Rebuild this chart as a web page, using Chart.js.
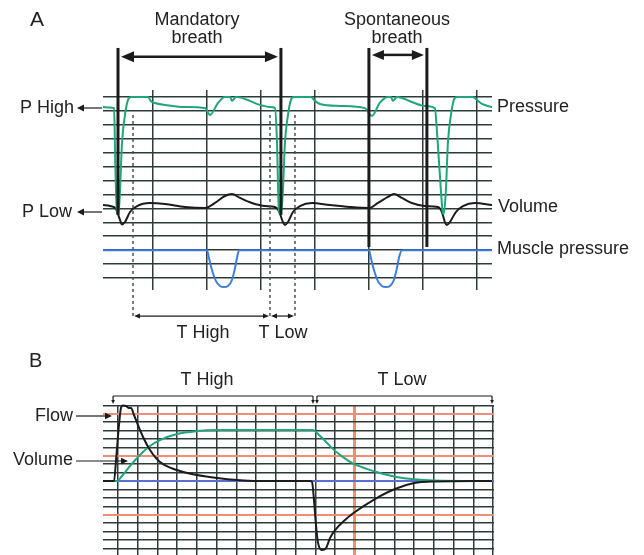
<!DOCTYPE html>
<html>
<head>
<meta charset="utf-8">
<script src="https://cdn.jsdelivr.net/npm/chart.js@4.4.1/dist/chart.umd.min.js"></script>
<style>
  html, body { margin: 0; padding: 0; background: #fff; }
  #wrap { position: relative; width: 644px; height: 555px; overflow: hidden; }
  canvas { position: absolute; left: 0; top: 0; }
</style>
</head>
<body>
<div id="wrap">
  <canvas id="chartA" width="644" height="555"></canvas>
  <canvas id="chartB" width="644" height="555"></canvas>
</div>
<script>
// Panel A: time in grid divisions, value in grid rows (0 = bottom row)
const aGridT = [1, 2, 3, 4, 5, 6, 7];
const aGridV = [0, 1, 2, 3, 4, 5, 6, 7, 8, 9, 10, 11, 12, 13];

const aPressureT = [0.074, 0.2, 0.28, 0.3, 0.333, 0.361, 0.389, 0.426, 0.481, 0.537, 0.593, 0.907, 0.963, 1.037, 1.22, 1.59, 1.963,
  2.056, 2.204, 2.333, 2.426, 2.463, 2.537, 2.611, 2.796, 2.98, 3.167, 3.26, 3.296, 3.333, 3.37, 3.407, 3.444, 3.5, 3.556, 3.611,
  3.926, 4.0, 4.093, 4.463, 4.926, 5.056, 5.2, 5.352, 5.407, 5.444, 5.519, 5.611, 5.796, 6.037, 6.222, 6.259, 6.333, 6.37, 6.389,
  6.426, 6.463, 6.519, 6.574, 6.63, 6.926, 7.0, 7.093, 7.28];
const aPressureV = [12.28, 12.25, 12.2, 8.5, 4.67, 4.6, 6.32, 9.7, 11.7, 12.79, 13.0, 13.0, 12.7, 12.57, 12.43, 12.28, 12.2,
  11.71, 12.57, 13.0, 13.0, 12.72, 13.0, 12.97, 12.72, 12.43, 12.28, 12.2, 9.9, 4.74, 4.6, 6.32, 9.7, 11.7, 12.79, 13.0,
  13.0, 12.72, 12.5, 12.36, 12.2, 11.64, 12.57, 13.0, 13.0, 12.72, 13.0, 12.93, 12.64, 12.36, 12.2, 10.6, 6.32, 4.67, 4.6,
  6.32, 9.7, 11.7, 12.79, 13.0, 13.0, 12.79, 12.5, 12.28];

const aVolumeT = [0.074, 0.204, 0.315, 0.389, 0.426, 0.481, 0.574, 0.704, 0.944, 1.222, 1.593, 1.963, 2.148, 2.333, 2.463, 2.611,
  2.833, 3.074, 3.259, 3.333, 3.407, 3.444, 3.5, 3.593, 3.722, 3.944, 4.278, 4.648, 5.0, 5.167, 5.352, 5.463, 5.611, 5.796,
  6.037, 6.278, 6.352, 6.407, 6.444, 6.5, 6.611, 6.741, 6.963, 7.28];
const aVolumeV = [5.24, 5.17, 4.96, 4.17, 3.85, 4.02, 4.74, 5.17, 5.39, 5.32, 5.1, 5.03, 5.39, 5.89, 6.03, 5.75,
  5.39, 5.17, 5.1, 4.81, 4.02, 3.81, 4.02, 4.74, 5.17, 5.39, 5.24, 5.1, 5.03, 5.39, 5.82, 6.03, 5.75, 5.39,
  5.17, 5.1, 4.74, 4.02, 3.81, 4.02, 4.74, 5.17, 5.39, 5.24];

const aMuscleT = [0.074, 2.0, 2.037, 2.093, 2.167, 2.241, 2.315, 2.389, 2.463, 2.519, 2.556, 2.593,
  5.0, 5.037, 5.093, 5.167, 5.241, 5.315, 5.389, 5.463, 5.519, 5.556, 5.611, 7.28];
const aMuscleV = [2, 2, 1.44, 0.57, -0.22, -0.57, -0.65, -0.57, -0.14, 0.72, 1.44, 2,
  2, 1.44, 0.57, -0.22, -0.57, -0.65, -0.57, -0.14, 0.72, 1.44, 2, 2];

// breath markers (thick lines) and phase markers (dashed)
const breathMarkT = [0.352, 3.37, 5.0, 6.074];
const breathMarkBottomV = [4.53, 4.53, 2.23, 2.23];
const phaseMarkT = [0.63, 3.167, 3.63];

// Panel B: time in grid divisions, value in grid rows (0 = baseline)
const bGridT = [0, 1, 2, 3, 4, 5, 6, 7, 8, 9, 10, 11, 12, 13, 14, 15, 16, 17, 18, 19];
const bGridV = [-8, -7, -6, -5, -4, -3, -2, -1, 0, 1, 2, 3, 4, 5, 6, 7, 8, 9];
const bOrangeV = [8, 3, -4];
const bOrangeT = [12];

const bFlowT = [-0.76, -0.2, -0.1, 0.05, 0.15, 0.25, 0.41, 0.56, 0.66, 0.81, 1.01, 1.27, 1.62, 2.13, 2.99, 4.0, 5.02, 6.03, 7.04,
  9.73, 9.83, 9.93, 10.03, 10.13, 10.33, 10.54, 10.74, 11.0, 11.5, 12.0, 13.02, 14.03, 15.0, 16.0, 18.95];
const bFlowV = [0, 0, 2.5, 6.67, 8.69, 9.0, 8.93, 8.69, 8.69, 7.86, 6.67, 5.24, 3.69, 2.26, 1.31, 0.71, 0.36, 0.12, 0,
  0, -0.12, -2.26, -5.2, -7.3, -8.21, -7.98, -6.79, -5.83, -4.64, -3.69, -2.14, -0.95, -0.24, -0.06, 0];

const bVolumeT = [-0.3, -0.05, 0.2, 0.61, 1.11, 1.62, 2.13, 2.99, 4.0, 5.02, 9.88, 10.13, 10.4, 10.9, 11.4, 11.9, 12.6, 13.27,
  14.1, 15.0, 16.0, 18.95];
const bVolumeV = [0, 0, 0.6, 1.79, 3.1, 4.17, 4.88, 5.6, 5.95, 6.07, 6.07, 5.6, 5.0, 3.8, 2.85, 2.1, 1.45, 0.95,
  0.48, 0.2, 0.06, 0];

const bBracketT = [-0.25, 9.88, 10.08, 18.95];

const FONT = '"Liberation Sans", Arial, Helvetica, sans-serif';
const INK = '#1b1b1b';
const GRID = '#2e3b3b';
const GREEN = '#20a67a';
const BLUE = '#3f7ddb';
const ORANGE = '#ef8e78';

function pts(ts, vs) {
  return ts.map((t, i) => ({ x: t, y: vs[i] }));
}

function seg(ctx, x1, y1, x2, y2) {
  ctx.beginPath();
  ctx.moveTo(x1, y1);
  ctx.lineTo(x2, y2);
  ctx.stroke();
}

// filled arrow head, tip at (x, y), pointing along ang
function head(ctx, x, y, ang, len, half) {
  const c = Math.cos(ang), s = Math.sin(ang);
  ctx.beginPath();
  ctx.moveTo(x, y);
  ctx.lineTo(x - len * c + half * s, y - len * s - half * c);
  ctx.lineTo(x - len * c - half * s, y - len * s + half * c);
  ctx.closePath();
  ctx.fill();
}

function doubleArrow(ctx, x1, x2, y, len, half) {
  seg(ctx, x1 + len - 1, y, x2 - len + 1, y);
  head(ctx, x1, y, Math.PI, len, half);
  head(ctx, x2, y, 0, len, half);
}

function text(ctx, str, x, y, align, size) {
  ctx.font = size + 'px ' + FONT;
  ctx.textAlign = align;
  ctx.textBaseline = 'middle';
  ctx.fillText(str, x, y);
}

const overlayA = {
  id: 'overlayA',
  afterDatasetsDraw(chart) {
    const { ctx, scales: { x, y } } = chart;
    ctx.save();
    ctx.strokeStyle = INK;
    ctx.fillStyle = INK;

    // thick breath markers
    ctx.lineWidth = 3;
    breathMarkT.forEach((t, i) => {
      const px = x.getPixelForValue(t);
      seg(ctx, px, y.getPixelForValue(16.52), px, y.getPixelForValue(breathMarkBottomV[i]));
    });

    // breath arrows
    ctx.lineWidth = 2.5;
    doubleArrow(ctx, x.getPixelForValue(breathMarkT[0]) + 3, x.getPixelForValue(breathMarkT[1]) - 3,
      y.getPixelForValue(15.88), 13, 5.5);
    doubleArrow(ctx, x.getPixelForValue(breathMarkT[2]) + 3, x.getPixelForValue(breathMarkT[3]) - 3,
      y.getPixelForValue(16.02), 12, 5);

    // dashed phase markers
    ctx.strokeStyle = '#4a4f4f';
    ctx.lineWidth = 1.5;
    ctx.setLineDash([3, 3]);
    phaseMarkT.forEach(t => {
      const px = x.getPixelForValue(t);
      seg(ctx, px, y.getPixelForValue(11.71), px, y.getPixelForValue(-2.87));
    });
    ctx.setLineDash([]);

    // T High / T Low arrows
    ctx.strokeStyle = INK;
    ctx.lineWidth = 1.2;
    const ay = y.getPixelForValue(-2.73);
    doubleArrow(ctx, x.getPixelForValue(phaseMarkT[0]) + 1, x.getPixelForValue(phaseMarkT[1]) - 1, ay, 6, 2.5);
    doubleArrow(ctx, x.getPixelForValue(phaseMarkT[1]) + 1, x.getPixelForValue(phaseMarkT[2]) - 1, ay, 6, 2.5);

    // level arrows
    seg(ctx, 80, 108, 102, 108);
    head(ctx, 77, 108, Math.PI, 7, 3.5);
    seg(ctx, 80, 212, 102, 212);
    head(ctx, 77, 212, Math.PI, 7, 3.5);

    ctx.fillStyle = '#222';
    text(ctx, 'A', 30, 20, 'left', 21);
    text(ctx, 'Mandatory', 197, 20, 'center', 18);
    text(ctx, 'breath', 197, 38, 'center', 18);
    text(ctx, 'Spontaneous', 397, 20, 'center', 18);
    text(ctx, 'breath', 397, 38, 'center', 18);
    text(ctx, 'P High', 20, 108, 'left', 18);
    text(ctx, 'P Low', 22, 212, 'left', 18);
    text(ctx, 'Pressure', 497, 107, 'left', 18);
    text(ctx, 'Volume', 498, 207, 'left', 18);
    text(ctx, 'Muscle pressure', 497, 249, 'left', 18);
    text(ctx, 'T High', 203, 333, 'center', 18);
    text(ctx, 'T Low', 283, 333, 'center', 18);
    ctx.restore();
  }
};

const overlayB = {
  id: 'overlayB',
  afterDatasetsDraw(chart) {
    const { ctx, scales: { x } } = chart;
    ctx.save();
    ctx.strokeStyle = INK;
    ctx.fillStyle = INK;
    ctx.lineWidth = 1.2;

    // brackets over the two phases
    const by = 396;
    [[bBracketT[0], bBracketT[1]], [bBracketT[2], bBracketT[3]]].forEach(([t1, t2]) => {
      const x1 = x.getPixelForValue(t1), x2 = x.getPixelForValue(t2);
      seg(ctx, x1, by, x2, by);
      seg(ctx, x1, by, x1, by + 5);
      seg(ctx, x2, by, x2, by + 5);
      head(ctx, x1, by + 8, Math.PI / 2, 4, 1.8);
      head(ctx, x2, by + 8, Math.PI / 2, 4, 1.8);
    });

    // label arrows
    seg(ctx, 76, 416, 106, 416);
    head(ctx, 112, 416, 0, 7, 3.2);
    seg(ctx, 76, 461, 122, 461);
    head(ctx, 128, 461, 0, 7, 3.2);

    ctx.fillStyle = '#222';
    text(ctx, 'B', 29, 361, 'left', 20);
    text(ctx, 'T High', 207, 380, 'center', 18);
    text(ctx, 'T Low', 402, 380, 'center', 18);
    text(ctx, 'Flow', 35, 416, 'left', 18);
    text(ctx, 'Volume', 13, 460, 'left', 18);
    ctx.restore();
  }
};

function axis(min, max, ticks, isX, color, width) {
  return {
    type: 'linear',
    min: min,
    max: max,
    afterBuildTicks: s => { s.ticks = ticks.map(v => ({ value: v })); },
    afterFit: s => { if (isX) { s.height = 0; } else { s.width = 0; } },
    ticks: { display: false },
    border: { display: false },
    grid: { drawTicks: false, color: color, lineWidth: width }
  };
}

const baseOptions = {
  responsive: false,
  animation: false,
  events: [],
  elements: {
    point: { radius: 0 },
    line: { cubicInterpolationMode: 'monotone', fill: false }
  },
  plugins: { legend: { display: false }, tooltip: { enabled: false } }
};

const chartA = new Chart(document.getElementById('chartA'), {
  type: 'line',
  data: {
    datasets: [
      { data: pts(aPressureT, aPressureV), borderColor: GREEN, borderWidth: 2 },
      { data: pts(aVolumeT, aVolumeV), borderColor: INK, borderWidth: 2 },
      { data: pts(aMuscleT, aMuscleV), borderColor: BLUE, borderWidth: 2 }
    ]
  },
  options: Object.assign({}, baseOptions, {
    layout: { padding: { left: 103, right: 152, top: 90, bottom: 265 } },
    scales: {
      x: axis(0.074, 7.28, aGridT, true, GRID, 1.5),
      y: axis(-0.86, 13.5, aGridV, false, GRID, 1.5)
    }
  }),
  plugins: [overlayA]
});

const chartB = new Chart(document.getElementById('chartB'), {
  type: 'line',
  data: {
    datasets: [
      { data: pts(bFlowT, bFlowV), borderColor: INK, borderWidth: 2, clip: false },
      { data: pts(bVolumeT, bVolumeV), borderColor: GREEN, borderWidth: 2, clip: false }
    ]
  },
  options: Object.assign({}, baseOptions, {
    layout: { padding: { left: 103, right: 150, top: 405, bottom: 0 } },
    scales: {
      x: axis(-0.76, 19.05, bGridT, true,
        c => bOrangeT.includes(c.tick.value) ? ORANGE : GRID,
        c => bOrangeT.includes(c.tick.value) ? 3 : 1.5),
      y: axis(-8.8, 9.05, bGridV, false,
        c => c.tick.value === 0 ? '#5a6fd0' : (bOrangeV.includes(c.tick.value) ? ORANGE : GRID),
        c => c.tick.value === 0 ? 2 : (bOrangeV.includes(c.tick.value) ? 2 : 1.5))
    }
  }),
  plugins: [overlayB]
});
</script>
</body>
</html>
